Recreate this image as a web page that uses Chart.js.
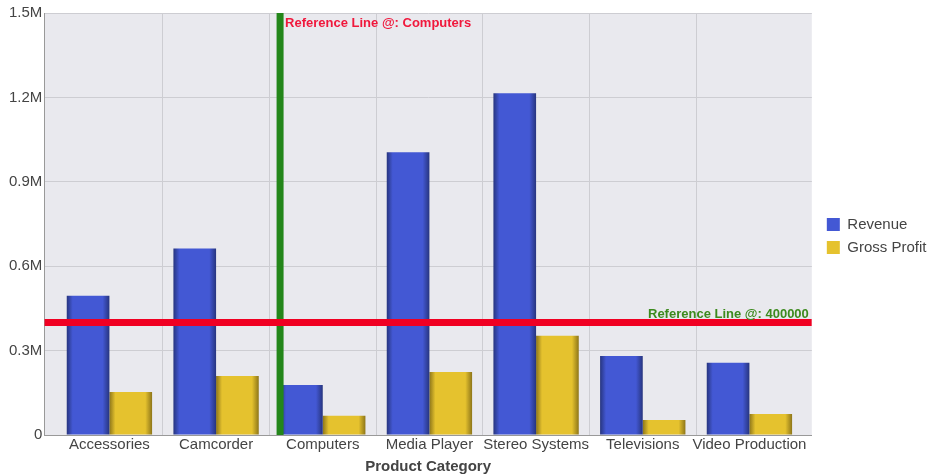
<!DOCTYPE html>
<html><head><meta charset="utf-8">
<script src="https://cdn.jsdelivr.net/npm/chart.js@4"></script>
<style>html,body{margin:0;padding:0;background:#fff}#wrap{width:927px;height:474px;position:relative}</style>
</head><body><div id="wrap"><canvas id="c"></canvas></div>
<script>
const categories = ['Accessories', 'Camcorder', 'Computers', 'Media Player', 'Stereo Systems', 'Televisions', 'Video Production'];
const revenue = [495000, 663000, 178000, 1005000, 1215000, 281000, 257000];
const grossProfit = [153000, 210000, 68000, 224000, 353000, 53000, 75000];
const yTicks = [0, 300000, 600000, 900000, 1200000, 1500000];
const refValue = 400000;
const refCategory = 'Computers';

const FONT = "'Liberation Sans', Arial, sans-serif";
const catPct = 0.8;
const xMin = -0.61, xMax = 6.585;
const refIdx = categories.indexOf(refCategory);
const refX = refIdx - catPct / 2;

function barGradient(base, dark, dsIdx) {
  return (ctx) => {
    const chart = ctx.chart;
    if (!chart.chartArea || ctx.type !== 'data' || !chart.scales.x) return base;
    const xs = chart.scales.x;
    const cx = xs.getPixelForValue(ctx.dataIndex);
    const w = (xs.getPixelForValue(1) - xs.getPixelForValue(0)) * catPct / 2;
    const x0 = dsIdx === 0 ? cx - w : cx;
    const g = chart.ctx.createLinearGradient(x0, 0, x0 + w, 0);
    g.addColorStop(0, dark); g.addColorStop(0.14, base); g.addColorStop(0.84, base); g.addColorStop(1, dark);
    return g;
  };
}

const bgPlugin = {
  id: 'bg',
  beforeDraw(chart) {
    const {ctx, chartArea: a} = chart;
    ctx.save(); ctx.fillStyle = '#E9E9EE';
    ctx.fillRect(a.left, a.top, a.right - a.left, a.bottom - a.top);
    ctx.restore();
  }
};
const refLabels = {
  id: 'refLabels',
  afterDatasetsDraw(chart) {
    const {ctx, chartArea: a, scales} = chart;
    ctx.save();
    ctx.font = 'bold 13px ' + FONT;
    ctx.textBaseline = 'alphabetic';
    ctx.fillStyle = '#F0183C'; ctx.textAlign = 'left';
    ctx.fillText('Reference Line @: ' + refCategory, scales.x.getPixelForValue(refX) + 5, a.top + 14);
    ctx.fillStyle = '#3C8A1E'; ctx.textAlign = 'right';
    ctx.fillText('Reference Line @: ' + refValue, a.right - 3, scales.y.getPixelForValue(refValue) - 4);
    ctx.restore();
  }
};

new Chart(document.getElementById('c'), {
  type: 'bar',
  data: {
    datasets: [
      { type: 'line', label: 'refH', xAxisID: 'x', yAxisID: 'y', data: [{x: xMin, y: refValue}, {x: xMax, y: refValue}], borderColor: '#F00022', borderWidth: 7, pointRadius: 0, order: -2 },
      { type: 'line', label: 'refV', xAxisID: 'x', yAxisID: 'y', data: [{x: refX, y: 0}, {x: refX, y: 1500000}], borderColor: '#23861A', borderWidth: 7, pointRadius: 0, order: -1 },
      { label: 'Revenue', xAxisID: 'x', yAxisID: 'y', data: revenue.map((v, i) => ({x: i, y: v})), backgroundColor: barGradient('#4358D4', '#27357F', 0), legendColor: '#4358D4', categoryPercentage: catPct, barPercentage: 1, order: 1 },
      { label: 'Gross Profit', xAxisID: 'x', yAxisID: 'y', data: grossProfit.map((v, i) => ({x: i, y: v})), backgroundColor: barGradient('#E5C22E', '#8E7619', 1), legendColor: '#E5C22E', categoryPercentage: catPct, barPercentage: 1, order: 1 }
    ]
  },
  options: {
    responsive: true, maintainAspectRatio: false, animation: false,
    layout: { padding: { left: 7, top: 13, right: -9.5, bottom: 0 } },
    plugins: {
      tooltip: { enabled: false },
      legend: {
        position: 'right',
        title: { display: true, text: '', font: { size: 10, lineHeight: 1 }, padding: { top: -25, bottom: 0 } },
        labels: {
          boxWidth: 13, boxHeight: 13, padding: 8, color: '#444', font: { size: 15, family: FONT },
          generateLabels(chart) {
            return chart.data.datasets.map((d, i) => ({ datasetIndex: i, text: d.label, fillStyle: d.legendColor, strokeStyle: d.legendColor, fontColor: '#444', lineWidth: 0, hidden: false })).filter(l => l.fillStyle);
          }
        }
      }
    },
    scales: {
      x: {
        type: 'linear', min: xMin, max: xMax, offset: false,
        afterBuildTicks(s) { s.ticks = categories.map((c, i) => ({value: i})); },
        ticks: { autoSkip: false, maxRotation: 0, padding: 1, color: '#444', font: { size: 15, family: FONT },
          callback: (v) => categories[v] },
        grid: { display: true, offset: true, drawTicks: false,
          color: (c) => (c.tick && c.index > 0) ? '#CDCDD2' : 'rgba(0,0,0,0)' },
        border: { display: true, color: '#999', width: 1 },
        title: { display: true, text: 'Product Category', color: '#444', font: { size: 15, weight: 'bold', family: FONT, lineHeight: 1 }, padding: { top: 4, bottom: 0 } }
      },
      y: {
        min: 0, max: 1500000,
        afterBuildTicks(s) { s.ticks = yTicks.map(v => ({value: v})); },
        ticks: { padding: 2, color: '#444', font: { size: 15, family: FONT },
          callback: (v) => v === 0 ? '0' : (v / 1e6).toFixed(1) + 'M' },
        grid: { drawTicks: false, color: '#CDCDD2' },
        border: { color: '#999', width: 1 }
      },
      yGap: {
        type: 'linear', position: 'right', display: true,
        ticks: { display: false },
        grid: { display: false, drawTicks: true, tickLength: 7 },
        border: { display: false }
      }
    }
  },
  plugins: [bgPlugin, refLabels]
});
</script></body></html>
